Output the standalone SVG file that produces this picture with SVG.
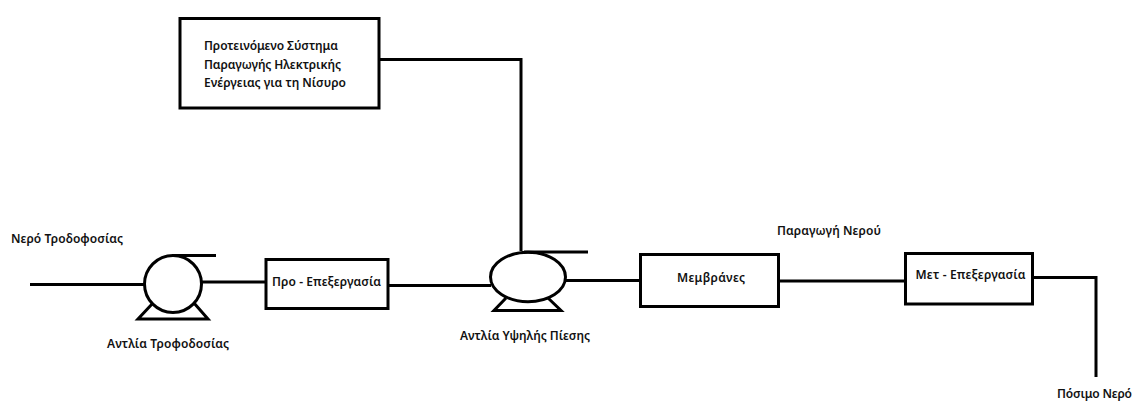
<svg xmlns="http://www.w3.org/2000/svg" width="1134" height="401" viewBox="0 0 1134 401">
<style>
.s{fill:none;stroke:#000;stroke-width:3}
.b{fill:#fff;stroke:#000;stroke-width:3}
.t{font-family:"Noto Sans","Open Sans","DejaVu Sans",sans-serif;font-size:12px;font-weight:600;fill:#111}
</style>
<rect width="1134" height="401" fill="#fff"/>
<g id="connectors">
<path class="s" d="M379 59.500H521V251"/>
<path class="s" d="M30 284.500H145"/>
<path class="s" d="M201 282H266"/>
<path class="s" d="M387 285.500H491"/>
<path class="s" d="M565 280.500H640"/>
<path class="s" d="M778 281H905"/>
<path class="s" d="M1032 277.500H1096V377"/>
</g>
<g id="system"><rect class="b" x="180" y="18.500" width="199" height="89.500"/>
<text class="t" x="204" y="50" textLength="134">Προτεινόμενο Σύστημα</text>
<text class="t" x="204" y="69" textLength="137">Παραγωγής Ηλεκτρικής</text>
<text class="t" x="204" y="87" textLength="142">Ενέργειας για τη Νίσυρο</text></g>
<g id="feed-label"><text class="t" x="11" y="243" textLength="112">Νερό Τροδοφοσίας</text></g>
<g id="feed-pump"><circle class="s" cx="173" cy="284" r="28.500"/>
<path class="s" d="M172 255.500H216"/>
<path class="s" d="M153 303L138 319H208L194 303"/>
<text class="t" x="107" y="348" textLength="122">Αντλία Τροφοδοσίας</text></g>
<g id="pre"><rect class="b" x="266" y="259.500" width="122" height="49"/>
<text class="t" x="272" y="286" textLength="109">Προ - Επεξεργασία</text></g>
<g id="hp-pump"><ellipse class="s" cx="528" cy="277" rx="37.500" ry="24.700"/>
<path class="s" d="M524 252H588"/>
<path class="s" d="M506 298L494 310.500H561L548 298"/>
<text class="t" x="460" y="340" textLength="130">Αντλία Υψηλής Πίεσης</text></g>
<g id="membranes"><rect class="b" x="640.500" y="254.500" width="138" height="52"/>
<text class="t" x="677" y="282" textLength="68">Μεμβράνες</text></g>
<g id="water-label"><text class="t" x="777" y="235" textLength="104">Παραγωγή Νερού</text></g>
<g id="post"><rect class="b" x="905.500" y="253.500" width="127" height="50.500"/>
<text class="t" x="915.500" y="279" textLength="110">Μετ - Επεξεργασία</text></g>
<g id="drinking"><text class="t" x="1057" y="397.500" textLength="75">Πόσιμο Νερό</text></g>
</svg>
